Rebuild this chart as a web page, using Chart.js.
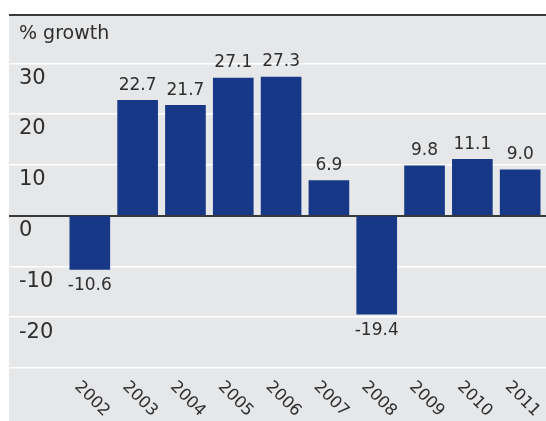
<!DOCTYPE html>
<html>
<head>
<meta charset="utf-8">
<script src="https://cdn.jsdelivr.net/npm/chart.js@4.4.1/dist/chart.umd.min.js"></script>
<style>
  html, body { margin: 0; padding: 0; background: #fff; }
</style>
</head>
<body>
<canvas id="growthChart" width="546" height="421"></canvas>
<script>
// data
const years = [2002, 2003, 2004, 2005, 2006, 2007, 2008, 2009, 2010, 2011];
const growth = [-10.6, 22.7, 21.7, 27.1, 27.3, 6.9, -19.4, 9.8, 11.1, 9.0];
const yTicks = [-30, -20, -10, 0, 10, 20, 30];
const yTitle = "% growth";

const Y_MIN = -30;
const Y_MAX = 39.5;
const X_MIN = 2000.31;
const X_MAX = 2011.54;

const TEXT = "#2e2e2e";
const FONT = "'DejaVu Sans', Verdana, sans-serif";

// grey panel behind the plot and the year labels
const panelBg = {
    id: "panelBg",
    beforeDraw(chart) {
        const { ctx, width, height, chartArea } = chart;
        ctx.save();
        ctx.fillStyle = "#e6e7e9";
        ctx.fillRect(chartArea.left, chartArea.top, width - chartArea.left, height - chartArea.top);
        ctx.restore();
    }
};

// numbers above / below each bar
const valueLabels = {
    id: "valueLabels",
    afterDatasetsDraw(chart) {
        const { ctx } = chart;
        const meta = chart.getDatasetMeta(0);
        ctx.save();
        ctx.font = "17px " + FONT;
        ctx.fillStyle = TEXT;
        ctx.textAlign = "center";
        ctx.textBaseline = "middle";
        meta.data.forEach((bar, i) => {
            const v = growth[i];
            const y = v >= 0 ? bar.y - 15 : bar.y + 16;
            ctx.fillText(v.toFixed(1), bar.x, y);
        });
        ctx.restore();
    }
};

new Chart(document.getElementById("growthChart").getContext("2d"), {
    type: "bar",
    data: {
        datasets: [{
            data: years.map((yr, i) => ({ x: yr, y: growth[i] })),
            backgroundColor: "#173887",
            barThickness: 40,
        }]
    },
    options: {
        responsive: false,
        animation: false,
        layout: {
            padding: { left: 9, top: 15, right: 0, bottom: 0 },
        },
        plugins: {
            legend: { display: false },
            tooltip: { enabled: false },
        },
        scales: {
            x: {
                type: "linear",
                min: X_MIN,
                max: X_MAX,
                offset: false,
                grid: { display: false, offset: false },
                border: { display: false },
                afterBuildTicks: (axis) => {
                    axis.ticks = years.map(v => ({ value: v }));
                },
                afterFit: (axis) => {
                    axis.height = 53;
                    axis.paddingLeft = 0;
                    axis.paddingRight = 0;
                },
                ticks: {
                    autoSkip: false,
                    minRotation: -45,
                    maxRotation: -45,
                    labelOffset: 17,
                    padding: 31,
                    color: TEXT,
                    font: { family: FONT, size: 16.5 },
                    callback: (v) => String(v),
                },
            },
            y: {
                min: Y_MIN,
                max: Y_MAX,
                afterBuildTicks: (axis) => {
                    axis.ticks = [...yTicks, Y_MAX].map(v => ({ value: v }));
                },
                afterFit: (axis) => {
                    axis.width = 0;
                    axis.paddingTop = 0;
                    axis.paddingBottom = 0;
                },
                grid: {
                    drawTicks: false,
                    color: (c) => (c.tick.value === 0 || c.tick.value === Y_MAX) ? "#3a3a3a" : "#ffffff",
                    lineWidth: (c) => (c.tick.value === 0 || c.tick.value === Y_MAX) ? 2 : 1.5,
                },
                border: { display: false },
                ticks: {
                    mirror: true,
                    padding: 10,
                    labelOffset: 15,
                    color: TEXT,
                    // the title sits a little lower in its band than the numbers do
                    font: (c) => (c.tick && c.tick.value === Y_MAX)
                        ? { family: FONT, size: 19, lineHeight: 0.4 }
                        : { family: FONT, size: 21 },
                    callback: (v) => v === Y_MAX ? ["", yTitle] : (v === Y_MIN ? "" : String(v)),
                },
            }
        }
    },
    plugins: [panelBg, valueLabels],
});
</script>
</body>
</html>
